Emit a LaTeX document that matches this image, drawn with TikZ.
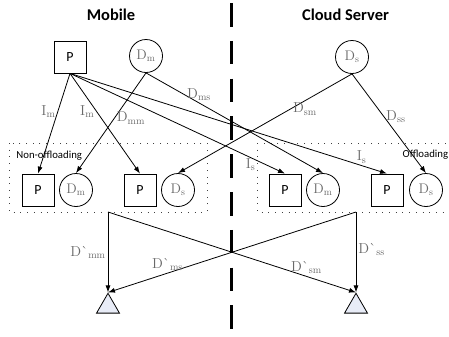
\documentclass[tikz,border=0pt]{standalone}
\usepackage{fontspec}
\setsansfont{Carlito}
\usetikzlibrary{arrows.meta,shapes.geometric}
\definecolor{lblgray}{RGB}{105,105,105}
\definecolor{trifill}{RGB}{232,236,247}
\tikzstyle{proc}=[draw,rectangle,minimum size=32bp,inner sep=0pt,font=\sffamily\fontsize{14}{14}\selectfont]
\tikzstyle{data}=[draw,circle,minimum size=33bp,inner sep=0pt,text=lblgray,font=\fontsize{14}{14}\selectfont]
\tikzstyle{sink}=[draw,fill=trifill,regular polygon,regular polygon sides=3,minimum size=26.5bp,inner sep=0pt]
\tikzstyle{area}=[draw=black!75,line width=1bp,dash pattern=on 1bp off 5.7bp]
\tikzstyle{lbl}=[text=lblgray,font=\fontsize{14.5}{14.5}\selectfont,inner sep=2pt]
\tikzstyle{side}=[font=\sffamily\bfseries\fontsize{16.5}{16.5}\selectfont]
\tikzstyle{zone}=[font=\sffamily\fontsize{10.8}{10.8}\selectfont,inner sep=0pt]
\newcommand{\dsym}[2]{#1$_{\mathrm{#2}}$}

\begin{document}
\begin{tikzpicture}[x=1bp,y=-1bp,>={Latex[length=7bp,width=5bp]},line width=0.8bp]
\useasboundingbox (0,0) rectangle (449,336);
\node[side] at (111,15) (mob) {Mobile};
\node[side] at (345.5,15) (srv) {Cloud Server};
\coordinate (divtop) at (231.5,3);
\coordinate (divbot) at (231.5,331);
\draw[line width=2.6bp,dash pattern=on 23.5bp off 14.3bp] (divtop) -- (divbot);
% offloading areas
\draw[area] (9,143) rectangle (207,212);
\draw[area] (257,143) rectangle (470,212);
\node[zone,anchor=west] at (16,156) (nonoff) {Non-offloading};
\node[zone,anchor=east] at (448.5,155) (off) {Offloading};
% top row
\node[proc] at (70,57) (p) {P};
\node[data] at (146,56) (dm) {\dsym{D}{m}};
\node[data] at (352,57) (ds) {\dsym{D}{s}};
% bottom rows
\node[proc] at (38,190) (pm1) {P};
\node[data] at (76,190) (dmm) {\dsym{D}{m}};
\node[proc] at (140,190) (pm2) {P};
\node[data] at (178,190) (dsm) {\dsym{D}{s}};
\node[proc] at (285,190) (ps1) {P};
\node[data] at (323,190) (dms) {\dsym{D}{m}};
\node[proc] at (387,190) (ps2) {P};
\node[data] at (426,190) (dss) {\dsym{D}{s}};
\node[sink] at (108,306.5) (tm) {};
\node[sink] at (356,306.5) (ts) {};
\coordinate (mout) at (108,212);
\coordinate (sout) at (356,212);
\draw[->] (p.south) -- node[lbl,left,pos=0.38] {\dsym{I}{m}} (pm1.north);
\draw[->] (p.south) -- node[lbl,left,pos=0.38] {\dsym{I}{m}} (pm2.north);
\draw[->] (p.south) -- node[lbl,below,pos=0.84,inner sep=0.5pt] {\dsym{I}{s}} (ps1.north);
\draw[->] (p.south) -- node[lbl,above,pos=0.92] {\dsym{I}{s}} (ps2.north);
\draw[->] (dm.south) -- node[lbl,right,pos=0.45] {\dsym{D}{mm}} (dmm.north);
\draw[->] (dm.south) -- node[lbl,above,pos=0.3] {\dsym{D}{ms}} (dms.north);
\draw[->] (ds.south) -- node[lbl,below,pos=0.27] {\dsym{D}{sm}} (dsm.north);
\draw[->] (ds.south) -- node[lbl,right,pos=0.43] {\dsym{D}{ss}} (dss.north);
% results
\draw[->] (mout) -- node[lbl,left,pos=0.5] {\dsym{D\textasciigrave}{mm}} (tm.north);
\draw[->] (sout) -- node[lbl,above,pos=0.76] {\dsym{D\textasciigrave}{ms}} (tm.north);
\draw[->] (mout) -- node[lbl,above,pos=0.8] {\dsym{D\textasciigrave}{sm}} (ts.north);
\draw[->] (sout) -- node[lbl,right,pos=0.47] {\dsym{D\textasciigrave}{ss}} (ts.north);
\end{tikzpicture}
\end{document}
